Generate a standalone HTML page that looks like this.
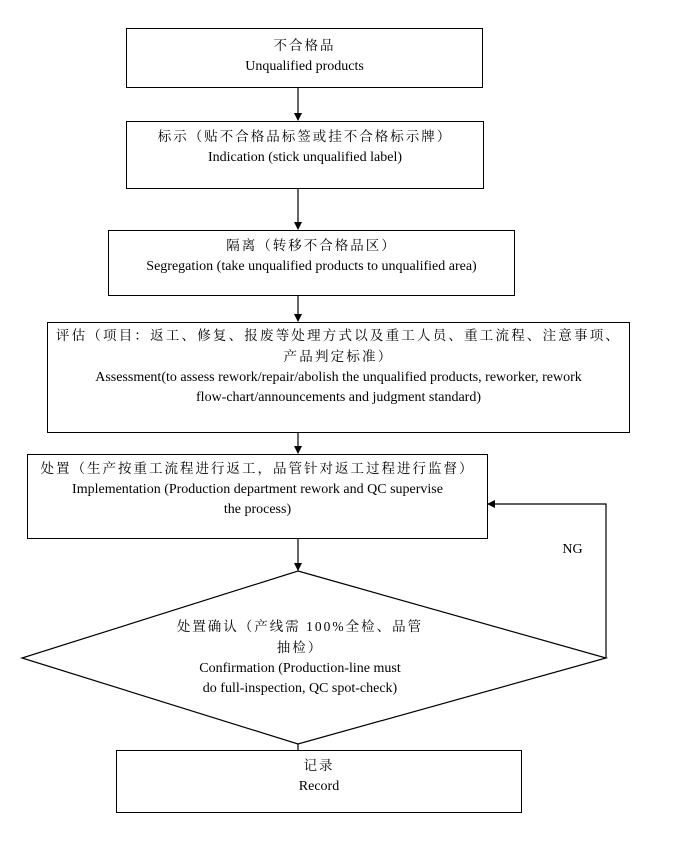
<!DOCTYPE html>
<html><head><meta charset="utf-8"><style>
body{margin:0;background:#fff;}
.w{position:relative;width:698px;height:856px;font-family:"Liberation Serif","Noto Serif CJK SC",serif;font-size:14px;color:#000;}
.b{position:absolute;border:1.3px solid #000;box-sizing:border-box;text-align:center;line-height:20px;}
.t{position:absolute;text-align:center;line-height:20px;}
.c{font-size:13.5px;letter-spacing:2px;}
</style></head><body><div class="w">
<svg width="698" height="856" style="position:absolute;left:0;top:0">
<defs><marker id="a" markerWidth="8" markerHeight="8" refX="7" refY="4" orient="auto" markerUnits="userSpaceOnUse"><path d="M0,0 L8,4 L0,8 z" fill="#000"/></marker></defs>
<g stroke="#000" stroke-width="1.2" fill="none">
<line x1="298" y1="87" x2="298" y2="120" marker-end="url(#a)"/>
<line x1="298" y1="188" x2="298" y2="229" marker-end="url(#a)"/>
<line x1="298" y1="295" x2="298" y2="321" marker-end="url(#a)"/>
<line x1="298" y1="432" x2="298" y2="453" marker-end="url(#a)"/>
<line x1="298" y1="538" x2="298" y2="570" marker-end="url(#a)"/>
<polygon points="298,571 606,658 298,744 22,658"/>
<polyline points="606,658 606,504 488,504" marker-end="url(#a)"/>
<line x1="298" y1="744" x2="298" y2="750"/>
</g></svg>
<div class="b" style="left:126px;top:28px;width:357px;height:60px;padding-top:7px"><span class="c">不合格品</span><br>Unqualified products</div>
<div class="b" style="left:126px;top:121px;width:358px;height:68px;padding-top:5px"><span class="c">标示（贴不合格品标签或挂不合格标示牌）</span><br>Indication (stick unqualified label)</div>
<div class="b" style="left:108px;top:230px;width:407px;height:66px;padding-top:5px"><span class="c">隔离（转移不合格品区）</span><br>Segregation (take unqualified products to unqualified area)</div>
<div class="b" style="left:47px;top:322px;width:583px;height:111px;padding-top:3px"><span class="c" style="letter-spacing:2.2px">评估（项目：返工、修复、报废等处理方式以及重工人员、重工流程、注意事项、<br>产品判定标准）</span><br>Assessment(to assess rework/repair/abolish the unqualified products, reworker, rework<br>flow-chart/announcements and judgment standard)</div>
<div class="b" style="left:27px;top:454px;width:461px;height:85px;padding-top:4px"><span class="c">处置（生产按重工流程进行返工，品管针对返工过程进行监督）</span><br>Implementation (Production department rework and QC supervise<br>the process)</div>
<div class="t" style="left:150px;top:617px;width:300px"><span class="c">处置确认（产线需 100%全检、品管<br>抽检）</span><br>Confirmation (Production-line must<br>do full-inspection, QC spot-check)</div>
<div class="t" style="left:555px;top:540px;width:35px">NG</div>
<div class="b" style="left:116px;top:750px;width:406px;height:63px;padding-top:5px"><span class="c">记录</span><br>Record</div>
</div></body></html>
